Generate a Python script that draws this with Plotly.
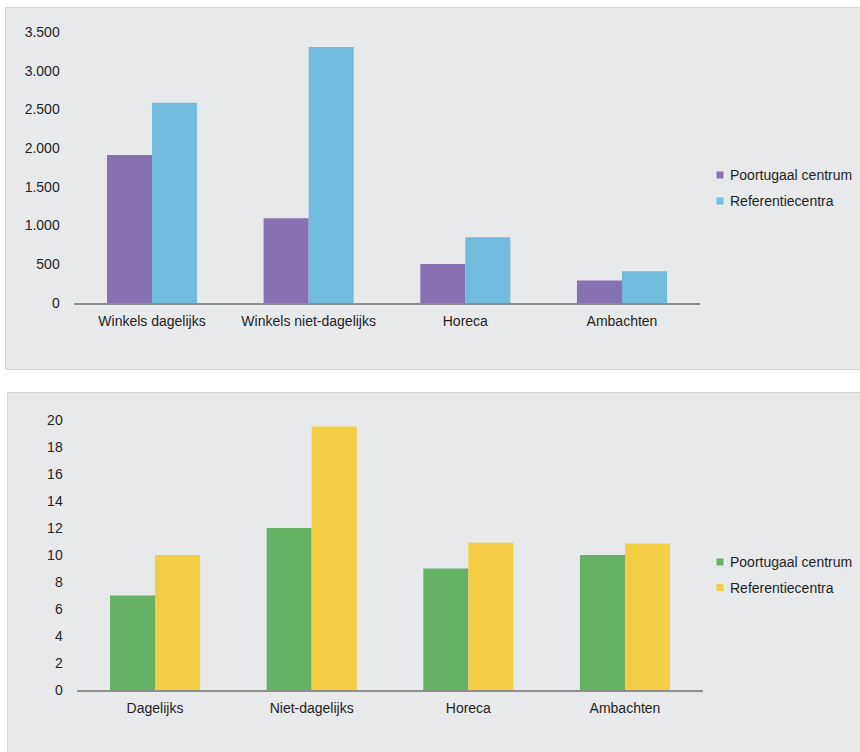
import plotly.graph_objects as go

W, H = 860, 752

# ---- data ----
cats_top = ["Winkels dagelijks", "Winkels niet-dagelijks", "Horeca", "Ambachten"]
top_poortugaal = [1910, 1095, 505, 290]
top_referentie = [2585, 3305, 850, 410]
top_ticks = [0, 500, 1000, 1500, 2000, 2500, 3000, 3500]
top_ticklabels = ["0", "500", "1.000", "1.500", "2.000", "2.500", "3.000", "3.500"]

cats_bot = ["Dagelijks", "Niet-dagelijks", "Horeca", "Ambachten"]
bot_poortugaal = [7, 12, 9, 10]
bot_referentie = [10, 19.5, 10.9, 10.85]
bot_ticks = [0, 2, 4, 6, 8, 10, 12, 14, 16, 18, 20]

series_names = ["Poortugaal centrum", "Referentiecentra"]

PURPLE = "#8771b1"
BLUE = "#71bcdc"
GREEN = "#66b264"
YELLOW = "#f3ce44"
BG = "#e8e9eb"
TXT = "#1f1f1f"
FONT = "Liberation Sans, Arial, sans-serif"
FS = 14


def px_x(p):
    return p / W


def px_y(p):
    return 1 - p / H


fig = go.Figure()

fig.add_trace(go.Bar(x=cats_top, y=top_poortugaal, name=series_names[0],
                     marker=dict(color=PURPLE, line=dict(width=0)), xaxis="x", yaxis="y"))
fig.add_trace(go.Bar(x=cats_top, y=top_referentie, name=series_names[1],
                     marker=dict(color=BLUE, line=dict(width=0)), xaxis="x", yaxis="y"))
fig.add_trace(go.Bar(x=cats_bot, y=bot_poortugaal, name=series_names[0],
                     marker=dict(color=GREEN, line=dict(width=0)), xaxis="x2", yaxis="y2"))
fig.add_trace(go.Bar(x=cats_bot, y=bot_referentie, name=series_names[1],
                     marker=dict(color=YELLOW, line=dict(width=0)), xaxis="x2", yaxis="y2"))

axis_common = dict(showgrid=False, zeroline=False, automargin=False,
                   tickfont=dict(family=FONT, size=FS, color=TXT))

shapes = [
    dict(type="rect", xref="paper", yref="paper", x0=px_x(5.5), x1=px_x(865), y0=px_y(369.5), y1=px_y(7.5),
         fillcolor=BG, line=dict(color="#d6d7d9", width=1), layer="below"),
    dict(type="rect", xref="paper", yref="paper", x0=px_x(7.5), x1=px_x(865), y0=px_y(765), y1=px_y(392.5),
         fillcolor=BG, line=dict(color="#d6d7d9", width=1), layer="below"),
]
annotations = []

# manual legends (small squares + labels)
legend_rows = [
    (series_names[0], PURPLE, 175), (series_names[1], BLUE, 201),
    (series_names[0], GREEN, 562), (series_names[1], YELLOW, 587.5),
]
for name, col, yc in legend_rows:
    shapes.append(dict(type="rect", xref="paper", yref="paper", x0=px_x(716.5), x1=px_x(723.5),
                       y0=px_y(yc + 3.5), y1=px_y(yc - 3.5), fillcolor=col, line=dict(width=0)))
    annotations.append(dict(xref="paper", yref="paper", x=px_x(727.5), y=px_y(yc), xanchor="left",
                            yanchor="middle", text=name, showarrow=False,
                            font=dict(family=FONT, size=FS, color=TXT)))

fig.update_layout(
    width=W, height=H,
    margin=dict(l=0, r=0, t=0, b=0, autoexpand=False),
    paper_bgcolor="white",
    plot_bgcolor="rgba(0,0,0,0)",
    font=dict(family=FONT, size=FS, color=TXT),
    showlegend=False,
    barmode="group",
    bargap=0.425,
    bargroupgap=0,
    xaxis=dict(domain=[px_x(73.7), px_x(700.3)], anchor="y", showline=True, linecolor="#8e8e8e", linewidth=2,
               ticks="", ticklabelstandoff=4, **axis_common),
    yaxis=dict(domain=[px_y(303), px_y(32)], anchor="x", range=[0, 3500], tickvals=top_ticks,
               ticktext=top_ticklabels, showline=False, ticks="", ticklabelstandoff=13, **axis_common),
    xaxis2=dict(domain=[px_x(76.7), px_x(703.3)], anchor="y2", showline=True, linecolor="#8e8e8e", linewidth=2,
                ticks="", ticklabelstandoff=4, **axis_common),
    yaxis2=dict(domain=[px_y(690.3), px_y(419.7)], anchor="x2", range=[0, 20], tickvals=bot_ticks,
                showline=False, ticks="", ticklabelstandoff=13, **axis_common),
    shapes=shapes,
    annotations=annotations,
)

fig.write_html("out.html")
